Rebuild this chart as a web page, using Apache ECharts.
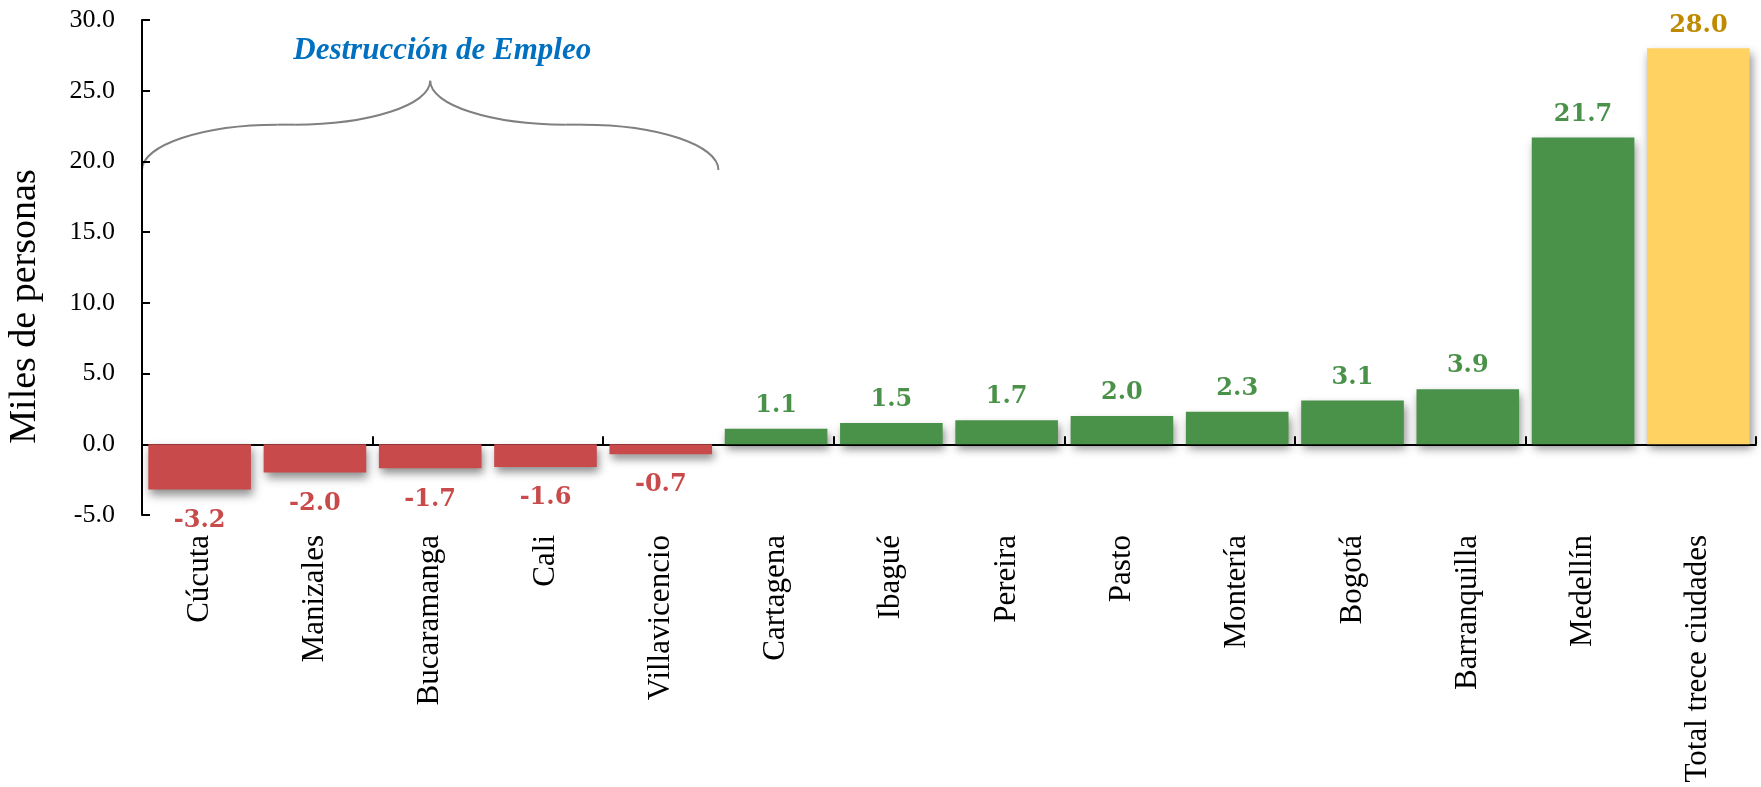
<!DOCTYPE html>
<html>
<head>
<meta charset="utf-8">
<script src="https://cdn.jsdelivr.net/npm/echarts@6/dist/echarts.min.js"></script>
<style>
  html, body { margin: 0; padding: 0; background: #ffffff; }
  #chart { width: 1761px; height: 787px; }
</style>
</head>
<body>
<div id="chart"></div>
<script>
// Employment change by city (thousands of people)
const cities = [
  'Cúcuta', 'Manizales', 'Bucaramanga', 'Cali', 'Villavicencio',
  'Cartagena', 'Ibagué', 'Pereira', 'Pasto', 'Montería',
  'Bogotá', 'Barranquilla', 'Medellín', 'Total trece ciudades'
];
const employmentChange = [
  -3.2, -2.0, -1.7, -1.6, -0.7,
  1.1, 1.5, 1.7, 2.0, 2.3,
  3.1, 3.9, 21.7, 28.0
];
const yMin = -5;
const yMax = 30;
const yStep = 5;
const axisTitle = 'Miles de personas';

// Bracket over the cities that lost jobs
const braceText = 'Destrucción de Empleo';
const braceFirstCity = 0;
const braceLastCity = 4;
const braceEndValue = 19.4;
const braceFlatValue = 22.6;
const braceTipValue = 25.7;
const braceTextValue = 27.8;

const RED = '#C84A4A', GREEN = '#4A9249', GOLD = '#FFD262';
const RED_TXT = '#C84A4A', GREEN_TXT = '#4A9249', GOLD_TXT = '#BF8A00';
const SERIF = '"Liberation Serif", "Times New Roman", serif';
const SLAB = '"DejaVu Serif", serif';

const lastIdx = cities.length - 1;
const barData = employmentChange.map((v, i) => {
  const isTotal = i === lastIdx;
  const neg = v < 0;
  return {
    value: v,
    itemStyle: { color: isTotal ? GOLD : (neg ? RED : GREEN) },
    label: {
      position: neg ? 'bottom' : 'top',
      distance: neg ? 19 : 11,
      color: isTotal ? GOLD_TXT : (neg ? RED_TXT : GREEN_TXT)
    }
  };
});

const chart = echarts.init(document.getElementById('chart'), null, { renderer: 'canvas' });

chart.setOption({
  animation: false,
  backgroundColor: '#ffffff',
  grid: { left: 142, right: 5, top: 20, bottom: 272, containLabel: false },
  xAxis: [
    {
      type: 'category',
      data: cities,
      axisLine: { onZero: true, lineStyle: { color: '#000000', width: 2 } },
      axisTick: { show: true, inside: true, length: 8, lineStyle: { color: '#000000', width: 2 } },
      axisLabel: { show: false },
      splitLine: { show: false }
    },
    {
      type: 'category',
      data: cities,
      position: 'bottom',
      axisLine: { show: false, onZero: false },
      axisTick: { show: false },
      splitLine: { show: false },
      axisLabel: {
        interval: 0,
        rotate: 90,
        margin: 20,
        color: '#000000',
        fontFamily: SERIF,
        fontSize: 31
      }
    }
  ],
  yAxis: {
    type: 'value',
    min: yMin,
    max: yMax,
    interval: yStep,
    axisLine: { show: true, lineStyle: { color: '#000000', width: 2 } },
    axisTick: { show: true, inside: true, length: 8, lineStyle: { color: '#000000', width: 2 } },
    splitLine: { show: false },
    axisLabel: {
      margin: 27,
      color: '#000000',
      fontFamily: SERIF,
      fontSize: 26,
      formatter: v => v.toFixed(1)
    }
  },
  series: [{
    type: 'bar',
    xAxisIndex: 0,
    yAxisIndex: 0,
    data: barData,
    barCategoryGap: '11%',
    itemStyle: {
      shadowBlur: 9,
      shadowColor: 'rgba(0, 0, 0, 0.45)',
      shadowOffsetX: 2,
      shadowOffsetY: 5
    },
    label: {
      show: true,
      fontFamily: SLAB,
      fontWeight: 'bold',
      fontSize: 24,
      formatter: p => p.value.toFixed(1)
    }
  }]
});

// Curly bracket and its caption, positioned in axis units
function drawAnnotations() {
  const px = (c, v) => chart.convertToPixel({ xAxisIndex: 0, yAxisIndex: 0 }, [c, v]);
  const band = px(1, 0)[0] - px(0, 0)[0];
  const xL = px(braceFirstCity, 0)[0] - band / 2;
  const xR = px(braceLastCity, 0)[0] + band / 2;
  const yE = px(0, braceEndValue)[1];
  const yF = px(0, braceFlatValue)[1];
  const yT = px(0, braceTipValue)[1];
  const xM = (xL + xR) / 2;
  const h = xM - xL;
  const k = 0.55;
  const a1 = xL + 0.47 * h, a2 = xL + 0.53 * h;
  const b2 = xR - 0.53 * h, b1 = xR - 0.47 * h;

  const stroke = { stroke: '#808080', lineWidth: 2, fill: null };
  const curve = (x1, y1, c1x, c1y, c2x, c2y, x2, y2) => ({
    type: 'bezierCurve',
    shape: { x1, y1, cpx1: c1x, cpy1: c1y, cpx2: c2x, cpy2: c2y, x2, y2 },
    style: stroke,
    silent: true
  });
  const seg = (x1, y1, x2, y2) => ({
    type: 'line', shape: { x1, y1, x2, y2 }, style: stroke, silent: true
  });

  const braceParts = [
    curve(xL, yE, xL, yE - k * (yE - yF), a1 - k * (a1 - xL), yF, a1, yF),
    seg(a1, yF, a2, yF),
    curve(a2, yF, a2 + k * (xM - a2), yF, xM, yT + k * (yF - yT), xM, yT),
    curve(xM, yT, xM, yT + k * (yF - yT), b2 - k * (b2 - xM), yF, b2, yF),
    seg(b2, yF, b1, yF),
    curve(b1, yF, b1 + k * (xR - b1), yF, xR, yE - k * (yE - yF), xR, yE)
  ];

  const yText = px(0, braceTextValue)[1];
  const plotTop = px(0, yMax)[1], plotBottom = px(0, yMin)[1];

  chart.setOption({
    graphic: braceParts.concat([
      {
        type: 'text',
        x: xM + 12,
        y: yText,
        style: {
          text: braceText,
          font: 'italic bold 31px "Liberation Serif", serif',
          fill: '#0070C0',
          align: 'center',
          verticalAlign: 'middle'
        },
        silent: true
      },
      {
        type: 'text',
        x: 25,
        y: (plotTop + plotBottom) / 2 + 39,
        rotation: Math.PI / 2,
        style: {
          text: axisTitle,
          font: '38px "Liberation Serif", serif',
          fill: '#000000',
          align: 'center',
          verticalAlign: 'middle'
        },
        silent: true
      }
    ])
  });
}
drawAnnotations();
</script>
</body>
</html>
